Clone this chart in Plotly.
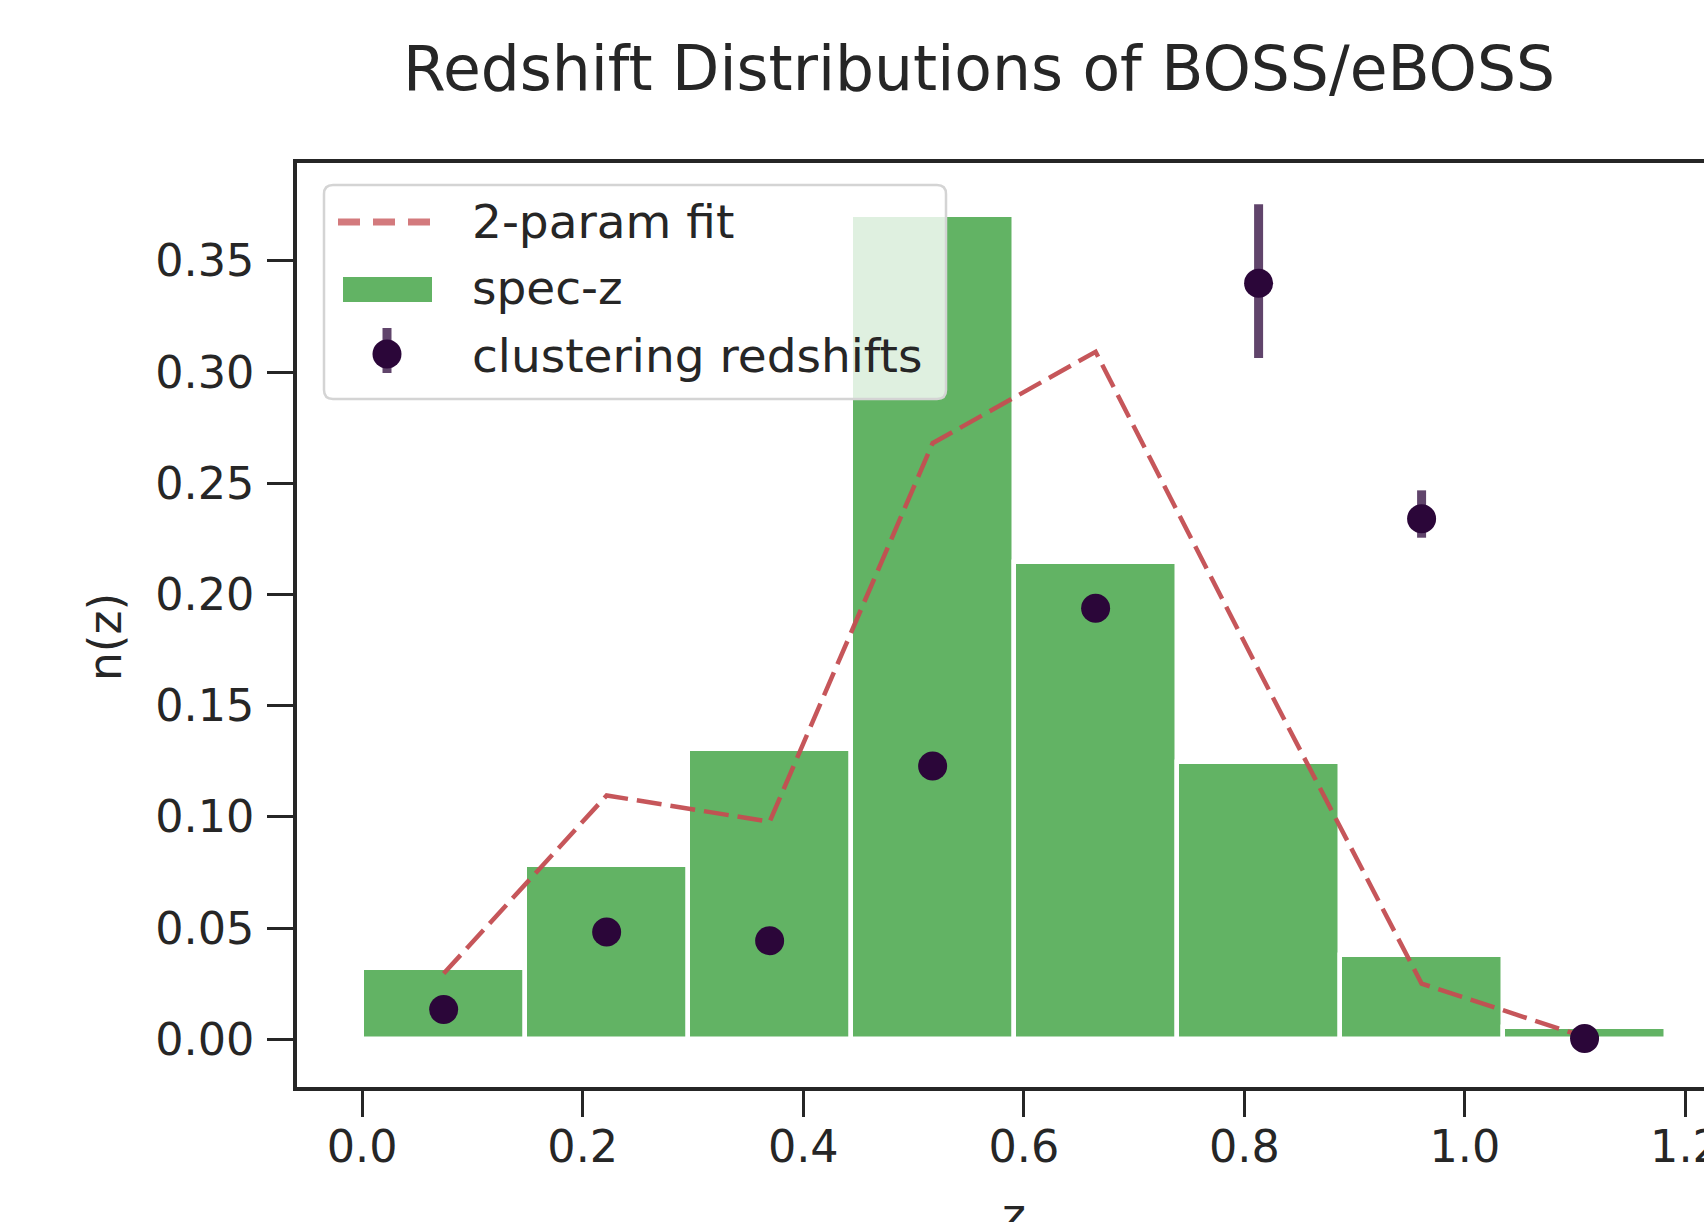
import plotly.graph_objects as go

# ---- data ----
z_centers = [0.0739, 0.2217, 0.3695, 0.5173, 0.6651, 0.8129, 0.9607, 1.1085]
bin_width = 0.1478
specz = [0.0322, 0.0785, 0.1303, 0.3706, 0.2148, 0.1245, 0.0380, 0.0056]
clustering = [0.0134, 0.0482, 0.0443, 0.1228, 0.1938, 0.3399, 0.2340, 0.0003]
clust_err_plus = [0.004, 0.004, 0.004, 0.005, 0.005, 0.0356, 0.0128, 0.003]
clust_err_minus = [0.004, 0.004, 0.004, 0.005, 0.005, 0.0336, 0.0085, 0.003]
fit_2param = [0.0295, 0.1096, 0.0978, 0.2680, 0.3091, 0.1660, 0.0250, 0.0010]

x_ticks = [0.0, 0.2, 0.4, 0.6, 0.8, 1.0, 1.2]
x_ticktext = ["0.0", "0.2", "0.4", "0.6", "0.8", "1.0", "1.2"]
y_ticks = [0.0, 0.05, 0.10, 0.15, 0.20, 0.25, 0.30, 0.35]
y_ticktext = ["0.00", "0.05", "0.10", "0.15", "0.20", "0.25", "0.30", "0.35"]

legend_labels = ["2-param fit", "spec-z", "clustering redshifts"]
title_text = "Redshift Distributions of BOSS/eBOSS"

# ---- styling ----
W, H = 1704, 1222
ML, MR, MT, MB = 297, 0, 163, 135
FONT = "DejaVu Sans"
TXT = "#262626"
BAR_C = "#62B364"
FIT_C = "#C44E52"
PT_C = "#2B0639"
ERR_C = "rgba(43,6,57,0.75)"
FS_TICK = 44.5
FS_LEG = 47

pw = W - ML - MR
ph = H - MT - MB


def px(xp):
    return (xp - ML) / pw


def py(yp):
    return (H - MB - yp) / ph


fig = go.Figure()

fig.add_trace(go.Bar(
    x=z_centers, y=specz, width=bin_width,
    marker=dict(color=BAR_C, line=dict(color="white", width=4.5)),
    name=legend_labels[1], showlegend=False,
))

fig.add_trace(go.Scatter(
    x=z_centers, y=fit_2param, mode="lines",
    line=dict(color=FIT_C, width=4.5, dash="25px,9px"),
    opacity=0.95, name=legend_labels[0], showlegend=False,
))

fig.add_trace(go.Scatter(
    x=z_centers, y=clustering, mode="markers",
    marker=dict(color=PT_C, size=29, line=dict(width=0)),
    error_y=dict(type="data", array=clust_err_plus, arrayminus=clust_err_minus,
                 symmetric=False, thickness=9, width=0, color=ERR_C),
    name=legend_labels[2], showlegend=False,
))

# ---- custom legend (matplotlib-like) ----
lx0, lx1, ly0, ly1, r = 324, 946, 185, 399, 9
rx, ry = r / pw, r / ph
X0, X1, Y0, Y1 = px(lx0), px(lx1), py(ly0), py(ly1)
path = (f"M {X0+rx} {Y0} L {X1-rx} {Y0} Q {X1} {Y0} {X1} {Y0-ry} "
        f"L {X1} {Y1+ry} Q {X1} {Y1} {X1-rx} {Y1} "
        f"L {X0+rx} {Y1} Q {X0} {Y1} {X0} {Y1+ry} "
        f"L {X0} {Y0-ry} Q {X0} {Y0} {X0+rx} {Y0} Z")
shapes = [
    dict(type="path", path=path, xref="paper", yref="paper", layer="above",
         fillcolor="rgba(255,255,255,0.8)", line=dict(color="#d4d4d4", width=2.5)),
    dict(type="line", xref="paper", yref="paper", layer="above",
         x0=px(338), x1=px(432), y0=py(222), y1=py(222),
         line=dict(color="rgba(196,78,82,0.75)", width=7, dash="22px,13px")),
    dict(type="rect", xref="paper", yref="paper", layer="above",
         x0=px(343), x1=px(432), y0=py(302), y1=py(277),
         fillcolor=BAR_C, line=dict(width=0)),
    dict(type="line", xref="paper", yref="paper", layer="above",
         x0=px(387), x1=px(387), y0=py(328), y1=py(373),
         line=dict(color=ERR_C, width=9)),
    dict(type="circle", xref="paper", yref="paper", layer="above",
         x0=px(387 - 14.5), x1=px(387 + 14.5), y0=py(354 + 14.5), y1=py(354 - 14.5),
         fillcolor=PT_C, line=dict(width=0)),
]

annotations = []
for lab, yy in zip(legend_labels, [222, 287, 355]):
    annotations.append(dict(text=lab, xref="paper", yref="paper", x=px(469.5), y=py(yy),
                            xanchor="left", yanchor="middle", showarrow=False,
                            font=dict(family=FONT, size=FS_LEG, color=TXT)))
annotations.append(dict(text="n(z)", xref="paper", yref="paper", x=px(105), y=py(637),
                        textangle=-90, xanchor="center", yanchor="middle", showarrow=False,
                        font=dict(family=FONT, size=FS_TICK + 1, color=TXT)))
annotations.append(dict(text="z", xref="paper", yref="paper", x=px(1014), y=py(1215),
                        xanchor="center", yanchor="middle", showarrow=False,
                        font=dict(family=FONT, size=FS_TICK + 1, color=TXT)))

fig.update_layout(
    width=W, height=H, autosize=False,
    margin=dict(l=ML, r=MR, t=MT, b=MB, pad=0, autoexpand=False),
    paper_bgcolor="white", plot_bgcolor="white",
    showlegend=False,
    title=dict(text=title_text, x=979 / W, y=1 - 68 / H, xanchor="center", yanchor="middle",
               font=dict(family=FONT, size=61.5, color=TXT)),
    shapes=shapes, annotations=annotations,
    bargap=0,
)

fig.update_xaxes(
    range=[-0.0591, 1.2168], tickvals=x_ticks, ticktext=x_ticktext,
    showline=True, linecolor=TXT, linewidth=3.5, mirror=True,
    ticks="outside", ticklen=26, tickwidth=3, tickcolor=TXT,
    showgrid=False, zeroline=False, ticklabeloverflow="allow",
    ticklabelstandoff=-8, automargin=False,
    tickfont=dict(family=FONT, size=FS_TICK, color=TXT),
)
fig.update_yaxes(
    range=[-0.0215, 0.394], tickvals=y_ticks, ticktext=y_ticktext,
    showline=True, linecolor=TXT, linewidth=3.5, mirror=False,
    ticks="outside", ticklen=26, tickwidth=3, tickcolor=TXT,
    showgrid=False, zeroline=False,
    ticklabelstandoff=4, automargin=False,
    tickfont=dict(family=FONT, size=FS_TICK, color=TXT),
)

fig.write_html("out.html",
               config={"displayModeBar": False},
               post_script="document.body.style.margin='0px';document.body.style.overflow='hidden';")
